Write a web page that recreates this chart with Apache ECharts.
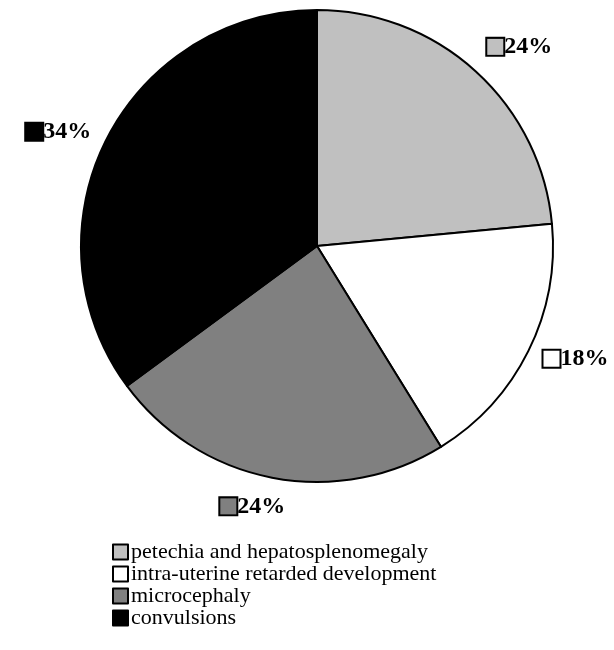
<!DOCTYPE html>
<html>
<head>
<meta charset="utf-8">
<script src="https://cdn.jsdelivr.net/npm/echarts@6/dist/echarts.min.js"></script>
<style>
html,body{margin:0;padding:0;background:#fff;}
#chart{width:614px;height:650px;}
</style>
</head>
<body>
<div id="chart"></div>
<script>
// Data
const categories = ['petechia and hepatosplenomegaly', 'intra-uterine retarded development', 'microcephaly', 'convulsions'];
const values = [23.5, 17.7, 23.7, 35.1];
const labelTexts = ['24%', '18%', '24%', '34%'];
const colors = ['#C0C0C0', '#FFFFFF', '#808080', '#000000'];

// Layout constants
const CX = 317, CY = 246, R = 236, R_LABEL = 253;

const total = values.reduce((a, b) => a + b, 0);
const mids = [];
let acc = 0;
values.forEach(v => { mids.push((acc + v / 2) / total * 2 * Math.PI); acc += v; });

const rich = { t: { fontFamily: 'Liberation Serif', fontWeight: 'bold', fontSize: 24, color: '#000', padding: [0, 0, 0, 1] } };
colors.forEach((c, i) => {
  rich['box' + i] = { width: 16, height: 16, backgroundColor: c, borderColor: '#000', borderWidth: 2 };
});

const chart = echarts.init(document.getElementById('chart'), null, { renderer: 'canvas' });
chart.setOption({
  animation: false,
  color: colors,
  legend: {
    orient: 'vertical',
    left: 112,
    top: 541,
    padding: 0,
    itemWidth: 15,
    itemHeight: 15,
    itemGap: 0,
    icon: 'rect',
    data: categories,
    textStyle: { fontFamily: 'Liberation Serif', fontSize: 22, color: '#000', lineHeight: 20, padding: [0, 0, 0, -2] }
  },
  series: [{
    type: 'pie',
    center: [CX, CY],
    radius: R,
    startAngle: 90,
    clockwise: true,
    avoidLabelOverlap: false,
    itemStyle: { borderColor: '#000', borderWidth: 2 },
    emphasis: { disabled: true },
    labelLine: { show: false },
    label: {
      show: true,
      position: 'outside',
      formatter: p => '{box' + p.dataIndex + '| }{t|' + labelTexts[p.dataIndex] + '}',
      rich: rich
    },
    labelLayout: function (params) {
      const m = mids[params.dataIndex];
      const s = Math.sin(m), c = Math.cos(m);
      const x = CX + R_LABEL * s, y = CY - R_LABEL * c;
      const align = s > 0.5 ? 'left' : (s < -0.5 ? 'right' : 'center');
      const verticalAlign = c > 0.5 ? 'bottom' : (c < -0.5 ? 'top' : 'middle');
      return { x: x - (align === 'center' ? 16 : 0), y: y, align: align, verticalAlign: verticalAlign };
    },
    data: categories.map((n, i) => ({ name: n, value: values[i] }))
  }]
});
</script>
</body>
</html>
